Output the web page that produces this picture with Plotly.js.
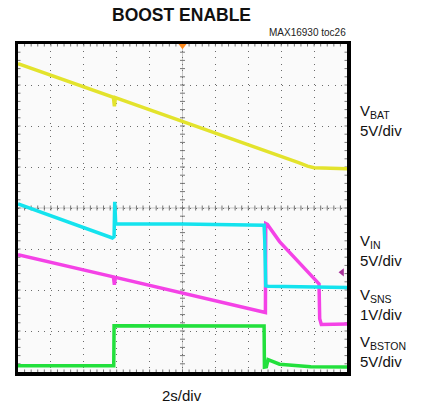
<!DOCTYPE html>
<html>
<head>
<meta charset="utf-8">
<script src="https://cdn.plot.ly/plotly-3.0.1.min.js"></script>
<style>html,body{margin:0;padding:0;background:#fff;}#chart{width:430px;height:411px;}</style>
</head>
<body>
<div id="chart"></div>
<script>
// Time axis in divisions (2 s/div), amplitude in screen divisions
const vbatX = [0, 2.90, 2.93, 2.96, 8.55, 8.80, 9.00, 9.30, 10];
const vbatY = [7.52, 6.70, 6.48, 6.69, 5.10, 5.02, 4.98, 4.97, 4.96];

const vinX = [0, 2.87, 2.92, 2.94, 2.97, 5.00, 7.48, 7.50, 7.53, 7.60, 10];
const vinY = [4.10, 3.27, 3.30, 4.15, 3.61, 3.61, 3.58, 3.20, 2.10, 2.09, 2.06];

const vsnsX = [0, 2.90, 2.93, 2.96, 7.52, 7.53, 7.58, 7.95, 9.15, 9.17, 9.22, 10];
const vsnsY = [2.86, 2.32, 2.13, 2.31, 1.45, 3.62, 3.60, 3.18, 2.15, 1.30, 1.16, 1.17];

const vbstonX = [0, 2.91, 2.92, 5.00, 7.48, 7.49, 7.55, 7.60, 7.95, 8.90, 10];
const vbstonY = [0.15, 0.15, 1.13, 1.13, 1.12, 0.12, 0.13, 0.30, 0.19, 0.13, 0.12];

const trigTimeX = [5];
const trigTimeY = [7.97];
const trigLevelX = [9.85];
const trigLevelY = [2.43];

const labels = [
  {name: 'V<sub>BAT</sub>', scale: '5V/div', midY: 120},
  {name: 'V<sub>IN</sub>', scale: '5V/div', midY: 250},
  {name: 'V<sub>SNS</sub>', scale: '1V/div', midY: 304.5},
  {name: 'V<sub>BSTON</sub>', scale: '5V/div', midY: 351.5}
];

const L = 18, T = 44, W = 329, H = 328;
const px = p => (p - L) / W;
const py = p => (T + H - p) / H;

const FONT = 'Liberation Sans, Arial, sans-serif';

const traces = [
  {x: vbatX, y: vbatY, mode: 'lines', line: {color: '#e3e32c', width: 3.5}, hoverinfo: 'skip'},
  {x: vsnsX, y: vsnsY, mode: 'lines', line: {color: '#f442e6', width: 3.5}, hoverinfo: 'skip'},
  {x: vinX, y: vinY, mode: 'lines', line: {color: '#14e3ee', width: 3.5}, hoverinfo: 'skip'},
  {x: vbstonX, y: vbstonY, mode: 'lines', line: {color: '#22e03c', width: 3.5}, hoverinfo: 'skip'},
  {x: trigTimeX, y: trigTimeY, mode: 'markers', marker: {symbol: 'triangle-down', size: 8, color: '#ff8a1c'}, cliponaxis: false, hoverinfo: 'skip'},
  {x: trigLevelX, y: trigLevelY, mode: 'markers', marker: {symbol: 'triangle-left', size: 7, color: '#a8329a'}, cliponaxis: false, hoverinfo: 'skip'}
];

const shapes = [];
// center cross lines
shapes.push({type: 'line', xref: 'x', yref: 'y', x0: 5, x1: 5, y0: 0, y1: 8, line: {color: '#c8c8c8', width: 1}, layer: 'below'});
shapes.push({type: 'line', xref: 'x', yref: 'y', x0: 0, x1: 10, y0: 4, y1: 4, line: {color: '#c8c8c8', width: 1}, layer: 'below'});
const tx = 2.5 / (W / 10), ty = 2.5 / (H / 8);
const ex = 2.5 / (W / 10), ey = 2.5 / (H / 8);
for (let i = 1; i < 50; i++) {
  const x = i * 0.2;
  shapes.push({type: 'line', x0: x, x1: x, y0: 4 - ty, y1: 4 + ty, line: {color: '#777', width: 1}, layer: 'below'});
  shapes.push({type: 'line', x0: x, x1: x, y0: 0, y1: ey, line: {color: '#777', width: 1}, layer: 'below'});
  shapes.push({type: 'line', x0: x, x1: x, y0: 8 - ey, y1: 8, line: {color: '#777', width: 1}, layer: 'below'});
}
for (let j = 1; j < 40; j++) {
  const y = j * 0.2;
  shapes.push({type: 'line', x0: 5 - tx, x1: 5 + tx, y0: y, y1: y, line: {color: '#777', width: 1}, layer: 'below'});
  shapes.push({type: 'line', x0: 0, x1: ex, y0: y, y1: y, line: {color: '#777', width: 1}, layer: 'below'});
  shapes.push({type: 'line', x0: 10 - ex, x1: 10, y0: y, y1: y, line: {color: '#777', width: 1}, layer: 'below'});
}

const annotations = [
  {text: '<b>BOOST ENABLE</b>', x: px(181), y: py(15.5), xanchor: 'center', yanchor: 'middle', font: {size: 17.5, color: '#111', family: FONT}},
  {text: 'MAX16930 toc26', x: px(348), y: py(32.5), xanchor: 'right', yanchor: 'middle', font: {size: 10, color: '#222', family: FONT}},
  {text: '2s/div', x: px(182), y: py(395), xanchor: 'center', yanchor: 'middle', font: {size: 15, color: '#111', family: FONT}}
];
labels.forEach(l => {
  annotations.push({text: l.name + '<br>' + l.scale, align: 'left', x: px(358), y: py(l.midY), xanchor: 'left', yanchor: 'middle', font: {size: 15, color: '#111', family: FONT}});
});
annotations.forEach(a => { a.xref = 'paper'; a.yref = 'paper'; a.showarrow = false; });

const axisCommon = {
  showticklabels: false, ticks: '', zeroline: false,
  showgrid: true, gridcolor: '#6a6a6a', gridwidth: 1, griddash: '1px,5.6px',
  showline: true, linecolor: '#000', linewidth: 3.5, mirror: true, fixedrange: true
};

const layout = {
  width: 430, height: 411,
  margin: {l: L, r: 430 - L - W, t: T, b: 411 - T - H, pad: 0},
  paper_bgcolor: '#ffffff', plot_bgcolor: '#fafafa',
  showlegend: false,
  xaxis: Object.assign({range: [0, 10], dtick: 1, tick0: 0}, axisCommon),
  yaxis: Object.assign({range: [0, 8], dtick: 1, tick0: 0}, axisCommon),
  shapes: shapes,
  annotations: annotations,
  font: {family: FONT}
};

Plotly.newPlot('chart', traces, layout, {staticPlot: true, displayModeBar: false});
</script>
</body>
</html>
